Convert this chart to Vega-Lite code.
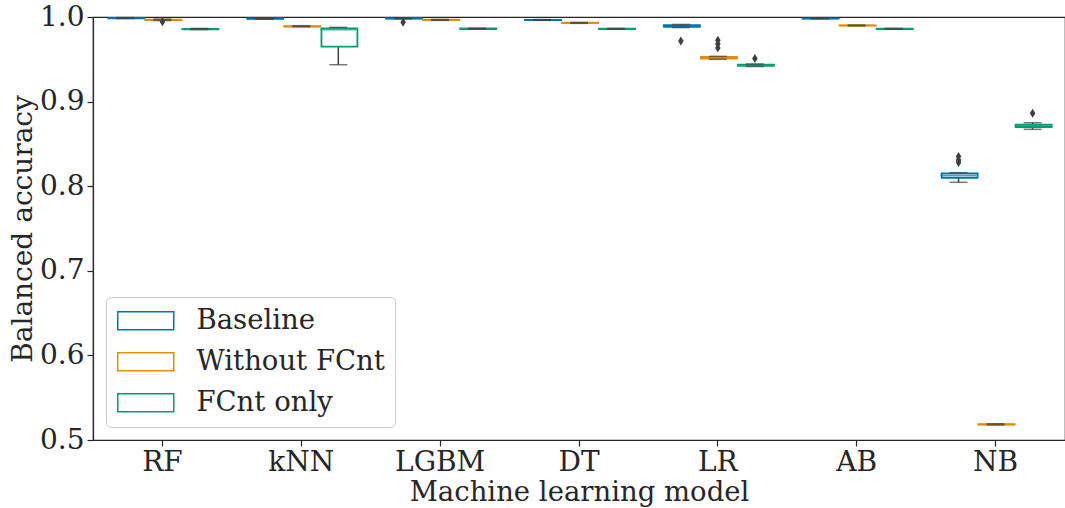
{
  "$schema": "https://vega.github.io/schema/vega-lite/v6.json",
  "width": 972,
  "height": 423,
  "autosize": {"type": "none"},
  "padding": {"left": 93, "top": 17, "right": 0, "bottom": 68},
  "config": {
    "font": "DejaVu Serif",
    "view": {"stroke": "#262626", "strokeWidth": 1.2},
    "axis": {
      "labelFont": "DejaVu Serif", "titleFont": "DejaVu Serif",
      "labelFontSize": 28, "titleFontSize": 28,
      "labelColor": "#262626", "titleColor": "#262626",
      "titleFontWeight": "normal", "domainColor": "#262626", "tickColor": "#262626",
      "grid": false, "tickSize": 6, "domainWidth": 1.2, "tickWidth": 1.2
    },
    "legend": {
      "orient": "bottom-left", "offset": 13, "padding": 10,
      "fillColor": "rgba(255,255,255,0.85)", "strokeColor": "#cccccc", "cornerRadius": 5,
      "labelFont": "DejaVu Serif", "labelFontSize": 27.5, "labelColor": "#262626", "labelLimit": 0,
      "symbolType": "M-2.8,-0.9H2.8V0.9H-2.8Z", "symbolSize": 400,
      "symbolStrokeWidth": 1.5, "symbolFillColor": "white", "symbolOffset": 16,
      "labelOffset": 37, "rowPadding": 12
    }
  },
  "datasets": {
    "stats": [
      {"model": "RF", "group": "Baseline", "lo": 0.9982, "q1": 0.9985, "med": 0.9988, "q3": 0.999, "hi": 0.9993},
      {"model": "RF", "group": "Without FCnt", "lo": 0.9958, "q1": 0.9963, "med": 0.9967, "q3": 0.997, "hi": 0.9975},
      {"model": "RF", "group": "FCnt only", "lo": 0.9852, "q1": 0.9855, "med": 0.9858, "q3": 0.986, "hi": 0.9865},
      {"model": "kNN", "group": "Baseline", "lo": 0.9975, "q1": 0.9978, "med": 0.998, "q3": 0.9982, "hi": 0.9985},
      {"model": "kNN", "group": "Without FCnt", "lo": 0.9885, "q1": 0.9888, "med": 0.989, "q3": 0.9893, "hi": 0.9897},
      {"model": "kNN", "group": "FCnt only", "lo": 0.9436, "q1": 0.965, "med": 0.985, "q3": 0.9866, "hi": 0.9878},
      {"model": "LGBM", "group": "Baseline", "lo": 0.9978, "q1": 0.9981, "med": 0.9984, "q3": 0.9987, "hi": 0.999},
      {"model": "LGBM", "group": "Without FCnt", "lo": 0.996, "q1": 0.9962, "med": 0.9965, "q3": 0.9968, "hi": 0.997},
      {"model": "LGBM", "group": "FCnt only", "lo": 0.9855, "q1": 0.9858, "med": 0.9861, "q3": 0.9864, "hi": 0.9867},
      {"model": "DT", "group": "Baseline", "lo": 0.996, "q1": 0.9963, "med": 0.9965, "q3": 0.9967, "hi": 0.997},
      {"model": "DT", "group": "Without FCnt", "lo": 0.9925, "q1": 0.9928, "med": 0.993, "q3": 0.9932, "hi": 0.9935},
      {"model": "DT", "group": "FCnt only", "lo": 0.9855, "q1": 0.9858, "med": 0.986, "q3": 0.9862, "hi": 0.9865},
      {"model": "LR", "group": "Baseline", "lo": 0.9875, "q1": 0.9884, "med": 0.9895, "q3": 0.9905, "hi": 0.9912},
      {"model": "LR", "group": "Without FCnt", "lo": 0.95, "q1": 0.9508, "med": 0.9518, "q3": 0.9527, "hi": 0.9535},
      {"model": "LR", "group": "FCnt only", "lo": 0.9415, "q1": 0.9422, "med": 0.943, "q3": 0.9436, "hi": 0.9445},
      {"model": "AB", "group": "Baseline", "lo": 0.9978, "q1": 0.998, "med": 0.9982, "q3": 0.9984, "hi": 0.9987},
      {"model": "AB", "group": "Without FCnt", "lo": 0.9895, "q1": 0.9898, "med": 0.99, "q3": 0.9902, "hi": 0.9905},
      {"model": "AB", "group": "FCnt only", "lo": 0.9855, "q1": 0.9858, "med": 0.986, "q3": 0.9862, "hi": 0.9865},
      {"model": "NB", "group": "Baseline", "lo": 0.8046, "q1": 0.81, "med": 0.8127, "q3": 0.8152, "hi": 0.816},
      {"model": "NB", "group": "Without FCnt", "lo": 0.5178, "q1": 0.5182, "med": 0.5185, "q3": 0.5188, "hi": 0.5192},
      {"model": "NB", "group": "FCnt only", "lo": 0.8672, "q1": 0.87, "med": 0.8715, "q3": 0.8728, "hi": 0.875}
    ],
    "outliers": [
      {"model": "RF", "group": "Without FCnt", "value": 0.9945},
      {"model": "LGBM", "group": "Baseline", "value": 0.9937},
      {"model": "LR", "group": "Baseline", "value": 0.9716},
      {"model": "LR", "group": "Without FCnt", "value": 0.9725},
      {"model": "LR", "group": "Without FCnt", "value": 0.968},
      {"model": "LR", "group": "Without FCnt", "value": 0.9635},
      {"model": "LR", "group": "FCnt only", "value": 0.951},
      {"model": "NB", "group": "Baseline", "value": 0.835},
      {"model": "NB", "group": "Baseline", "value": 0.831},
      {"model": "NB", "group": "Baseline", "value": 0.828},
      {"model": "NB", "group": "FCnt only", "value": 0.8862}
    ]
  },
  "data": {"name": "stats"},
  "encoding": {
    "x": {
      "field": "model", "type": "nominal",
      "sort": ["RF", "kNN", "LGBM", "DT", "LR", "AB", "NB"],
      "scale": {"paddingInner": 0.2, "paddingOuter": 0.1},
      "axis": {"title": "Machine learning model", "labelAngle": 0, "labelPadding": 2, "titlePadding": 2, "titleFontSize": 27.5}
    },
    "xOffset": {
      "field": "group", "type": "nominal",
      "sort": ["Baseline", "Without FCnt", "FCnt only"],
      "scale": {"paddingInner": 0, "paddingOuter": 0}
    }
  },
  "layer": [
    {
      "mark": {"type": "rule", "color": "#3f3f3f", "strokeWidth": 1.5},
      "encoding": {
        "y": {
          "field": "lo", "type": "quantitative",
          "scale": {"domain": [0.5, 1.0], "nice": false, "zero": false},
          "axis": {"title": "Balanced accuracy", "values": [0.5, 0.6, 0.7, 0.8, 0.9, 1.0], "format": ".1f", "labelPadding": 3, "titlePadding": 2}
        },
        "y2": {"field": "q1"}
      }
    },
    {
      "mark": {"type": "rule", "color": "#3f3f3f", "strokeWidth": 1.5},
      "encoding": {
        "y": {"field": "q3", "type": "quantitative"},
        "y2": {"field": "hi"}
      }
    },
    {
      "mark": {"type": "bar", "fill": "white", "strokeWidth": 1.8, "width": {"band": 0.97}},
      "encoding": {
        "y": {"field": "q1", "type": "quantitative"},
        "y2": {"field": "q3"},
        "stroke": {
          "field": "group", "type": "nominal",
          "scale": {"domain": ["Baseline", "Without FCnt", "FCnt only"], "range": ["#0173b2", "#de8f05", "#029e73"]},
          "legend": {"title": null}
        }
      }
    },
    {
      "mark": {"type": "tick", "size": 35, "thickness": 0.5, "filled": false, "strokeWidth": 1.2},
      "encoding": {
        "y": {"field": "med", "type": "quantitative"},
        "stroke": {"field": "group", "type": "nominal", "legend": null}
      }
    },
    {
      "mark": {"type": "tick", "size": 18, "thickness": 1.5, "color": "#3f3f3f"},
      "encoding": {"y": {"field": "lo", "type": "quantitative"}}
    },
    {
      "mark": {"type": "tick", "size": 18, "thickness": 1.5, "color": "#3f3f3f"},
      "encoding": {"y": {"field": "hi", "type": "quantitative"}}
    },
    {
      "data": {"name": "outliers"},
      "mark": {"type": "point", "shape": "M0,-1L0.62,0L0,1L-0.62,0Z", "filled": true, "size": 80, "color": "#3f3f3f", "opacity": 1},
      "encoding": {"y": {"field": "value", "type": "quantitative"}}
    }
  ]
}
